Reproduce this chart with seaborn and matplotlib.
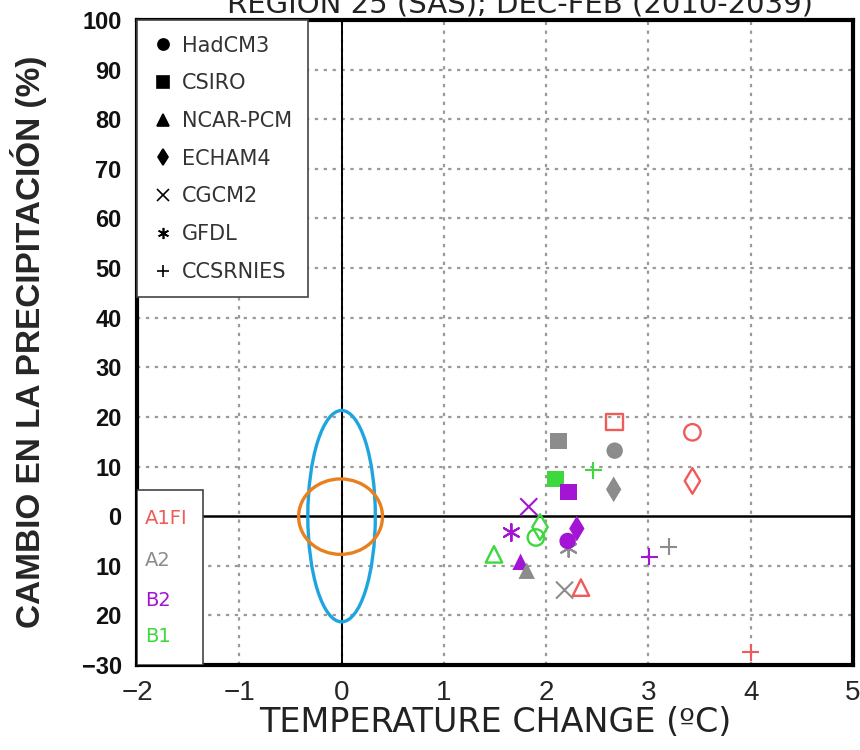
"""Scatter of GCM temperature vs precipitation change, SAS region."""

import pandas as pd
import matplotlib
matplotlib.use("Agg")
import matplotlib.pyplot as plt
import seaborn as sns
from matplotlib.lines import Line2D
from matplotlib.patches import Ellipse, Rectangle

MODELS = ["HadCM3", "CSIRO", "NCAR-PCM", "ECHAM4", "CGCM2", "GFDL", "CCSRNIES"]
SCENARIOS = ["A1FI", "A2", "B2", "B1"]
SCEN_COLORS = ["#f05a5a", "#8c8c8c", "#a414d4", "#3cd83c"]
MODEL_MARKERS = ["o", "s", "^", "d", "x", (6, 2, 0), "+"]

# one row per model run
point_model = [
    "CSIRO", "HadCM3", "CSIRO", "HadCM3", "CCSRNIES", "CSIRO", "CSIRO", "ECHAM4",
    "ECHAM4", "CGCM2", "ECHAM4", "ECHAM4", "GFDL", "HadCM3", "HadCM3", "GFDL",
    "CCSRNIES", "CCSRNIES", "NCAR-PCM", "NCAR-PCM", "NCAR-PCM", "CGCM2", "NCAR-PCM",
    "CCSRNIES",
]
point_scenario = [
    "A1FI", "A1FI", "A2", "A2", "B1", "B1", "B2", "A2",
    "A1FI", "B2", "B1", "B2", "B2", "B1", "B2", "A2",
    "A2", "B2", "B1", "B2", "A2", "A2", "A1FI",
    "A1FI",
]
point_filled = [
    False, False, True, True, True, True, True, True,
    False, True, False, True, True, False, True, True,
    True, True, False, True, True, True, False,
    True,
]
temp_change = [
    2.67, 3.43, 2.12, 2.67, 2.46, 2.09, 2.22, 2.66,
    3.43, 1.83, 1.94, 2.30, 1.66, 1.90, 2.21, 2.22,
    3.20, 3.01, 1.49, 1.75, 1.81, 2.18, 2.34,
    4.00,
]
precip_change = [
    19.0, 16.9, 15.2, 13.2, 9.3, 7.5, 4.9, 5.4,
    7.1, 1.9, -2.2, -2.5, -3.3, -4.3, -5.0, -6.5,
    -6.2, -8.2, -7.7, -9.2, -11.0, -14.9, -14.4,
    -27.4,
]

# natural variability ellipses (centre x, centre y, half width, half height)
ELLIPSE_BLUE = (0.0, 0.0, 0.33, 21.3)
ELLIPSE_ORANGE = (-0.01, -0.1, 0.41, 7.6)

Y_TICKS = [-30, -20, -10, 0, 10, 20, 30, 40, 50, 60, 70, 80, 90, 100]
Y_TICK_LABELS = ["\u221230", "20", "10", "0", "10", "20", "30", "40", "50", "60",
                 "70", "80", "90", "100"]
X_TICKS = [-2, -1, 0, 1, 2, 3, 4, 5]
X_TICK_LABELS = ["\u22122", "\u22121", "0", "1", "2", "3", "4", "5"]

df = pd.DataFrame({
    "model": point_model,
    "scenario": point_scenario,
    "filled": point_filled,
    "temp": temp_change,
    "precip": precip_change,
})
palette = dict(zip(SCENARIOS, SCEN_COLORS))
markers = dict(zip(MODELS, MODEL_MARKERS))

sns.set_style("white")
plt.rcParams["font.family"] = ["Liberation Sans", "DejaVu Sans"]

fig = plt.figure(figsize=(8.6, 7.5), dpi=100)
ax = fig.add_axes([137 / 860, 1 - 665 / 750, 716 / 860, 645 / 750])

ax.set_xlim(-2, 5)
ax.set_ylim(-30, 100)

# dotted grid
for xv in X_TICKS[1:-1]:
    ax.axvline(xv, color="#9a9a9a", lw=1.6, ls=(0, (1.5, 2.5)), zorder=0)
for yv in Y_TICKS[1:-1]:
    if yv != 0:
        ax.axhline(yv, color="#9a9a9a", lw=1.6, ls=(0, (1.5, 2.5)), zorder=0)
ax.axvline(0, color="black", lw=1.4, zorder=1)
ax.axhline(0, color="black", lw=1.8, zorder=1)

for (model, filled), sub in df.groupby(["model", "filled"]):
    mk = markers[model]
    line_art = model in ("CGCM2", "GFDL", "CCSRNIES")
    size = 150 if line_art else (170 if model == "ECHAM4" else 140)
    sns.scatterplot(
        data=sub, x="temp", y="precip", hue="scenario", palette=palette,
        hue_order=SCENARIOS, marker=mk, s=size,
        linewidth=1.5 if line_art else 0, legend=False, ax=ax, zorder=3,
    )
    if not filled and not line_art:
        coll = ax.collections[-1]
        fc = coll.get_facecolors()
        coll.set_edgecolors(fc)
        coll.set_facecolors("none")
        coll.set_linewidth(1.7)

for (cx, cy, hw, hh), col in [(ELLIPSE_BLUE, "#1ea5e0"), (ELLIPSE_ORANGE, "#e8801e")]:
    ax.add_patch(Ellipse((cx, cy), 2 * hw, 2 * hh, fill=False, ec=col, lw=2.4, zorder=2))

ax.set_xticks(X_TICKS)
ax.set_xticklabels(X_TICK_LABELS, fontsize=20)
ax.set_yticks(Y_TICKS)
ax.set_yticklabels(Y_TICK_LABELS, fontsize=17, fontweight="bold", color="#111111")
ax.tick_params(axis="both", direction="out", length=7, width=2.5, color="black", pad=4)
for sp in ax.spines.values():
    sp.set_linewidth(3)
    sp.set_color("black")
ax.set_xlabel("TEMPERATURE CHANGE (ºC)", fontsize=24, family=["DejaVu Sans"],
              color="#222222")
ax.xaxis.set_label_coords(0.5, (665 - 706) / 645)
ax.set_ylabel("CAMBIO EN LA PRECIPITACIÓN (%)", fontsize=24, fontweight="bold")
ax.yaxis.set_label_coords((47 - 137) / 716, (665 - 342) / 645)

# model legend (marker shapes)
handles = []
for model, mk in zip(MODELS, MODEL_MARKERS):
    handles.append(Line2D([], [], ls="none", marker=mk, color="black",
                          markersize=8, markeredgewidth=1.2))
leg = ax.legend(handles, MODELS, loc="upper left", borderaxespad=0, fancybox=False,
                frameon=True, edgecolor="#444444", labelspacing=0.85,
                prop={"family": "DejaVu Sans", "size": 15},
                handlelength=1.0, handletextpad=0.4, borderpad=0.75, framealpha=1)
leg.get_frame().set_linewidth(1.2)
for t in leg.get_texts():
    t.set_color("#333333")
leg.set_zorder(5)

# scenario key: plain box with coloured names
box_w, box_h = 66 / 716, 175 / 645
ax.add_patch(Rectangle((0, 0), box_w, box_h, transform=ax.transAxes, fc="white",
                       ec="#444444", lw=1.2, zorder=5))
row_px = [519, 561, 600, 637]
for name, col, py in zip(SCENARIOS, SCEN_COLORS, row_px):
    ax.text(8 / 716, (665 - py) / 645, name, transform=ax.transAxes, color=col,
            fontsize=14, family=["DejaVu Sans"], va="center", ha="left", zorder=6)

fig.text(0.605, 1 - 12 / 750, "REGION 25 (SAS); DEC-FEB (2010-2039)", ha="center",
         va="baseline", fontsize=21, family=["DejaVu Sans"], color="#222222")

fig.savefig("out.png", dpi=100)
